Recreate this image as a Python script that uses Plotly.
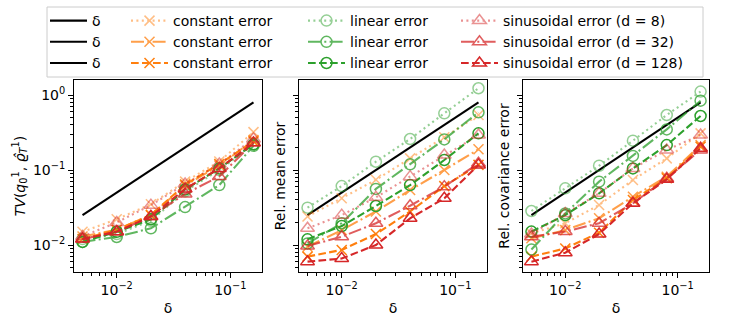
import plotly.graph_objects as go

# step sizes and reference line (delta scaled)
delta = [0.005, 0.01, 0.02, 0.04, 0.08, 0.16]
delta_ref = [0.025, 0.05, 0.1, 0.2, 0.4, 0.8]
d_values = [8, 32, 128]

# TV distance, rows = d 8 / 32 / 128
tv_constant = [[0.015, 0.022, 0.035, 0.070, 0.13, 0.32],
               [0.013, 0.016, 0.025, 0.062, 0.115, 0.25],
               [0.012, 0.016, 0.025, 0.064, 0.12, 0.24]]
tv_linear = [[0.012, 0.014, 0.021, 0.052, 0.10, 0.22],
             [0.011, 0.0128, 0.0167, 0.032, 0.063, 0.21],
             [0.011, 0.015, 0.022, 0.055, 0.105, 0.22]]
tv_sinusoidal = [[0.013, 0.020, 0.034, 0.065, 0.12, 0.26],
                 [0.012, 0.015, 0.024, 0.048, 0.082, 0.23],
                 [0.012, 0.015, 0.024, 0.056, 0.105, 0.23]]

# relative mean error
mean_constant = [[0.024, 0.042, 0.074, 0.143, 0.273, 0.541],
                 [0.0095, 0.0158, 0.028, 0.054, 0.10, 0.189],
                 [0.007, 0.0086, 0.014, 0.028, 0.061, 0.117]]
mean_linear = [[0.0315, 0.061, 0.129, 0.259, 0.57, 1.23],
               [0.0105, 0.0195, 0.056, 0.119, 0.256, 0.587],
               [0.0119, 0.0179, 0.0331, 0.063, 0.136, 0.308]]
mean_sinusoidal = [[0.0167, 0.025, 0.0432, 0.0815, 0.158, 0.293],
                   [0.0097, 0.0129, 0.0195, 0.0334, 0.060, 0.123],
                   [0.006, 0.0066, 0.010, 0.0227, 0.0419, 0.117]]

# relative covariance error
cov_constant = [[0.0143, 0.0195, 0.0341, 0.0736, 0.143, 0.308],
                [0.0123, 0.0158, 0.0227, 0.0441, 0.0815, 0.215],
                [0.007, 0.009, 0.0146, 0.0398, 0.0774, 0.205]]
cov_linear = [[0.0284, 0.057, 0.114, 0.246, 0.541, 1.11],
              [0.0087, 0.0264, 0.0699, 0.154, 0.348, 0.84],
              [0.0151, 0.025, 0.0489, 0.105, 0.215, 0.525]]
cov_sinusoidal = [[0.014, 0.0264, 0.0489, 0.105, 0.185, 0.293],
                  [0.0129, 0.0151, 0.0195, 0.036, 0.0774, 0.185],
                  [0.006, 0.0079, 0.014, 0.036, 0.075, 0.195]]

panels = [(tv_constant, tv_linear, tv_sinusoidal),
          (mean_constant, mean_linear, mean_sinusoidal),
          (cov_constant, cov_linear, cov_sinusoidal)]
y_titles = ["<i>TV</i>(<i>q</i><sub>0</sub><sup>1</sup>, <i>ϱ̂</i><sub><i>T</i></sub><sup>1</sup>)",
            "Rel. mean error", "Rel. covariance error"]

FONT = "DejaVu Sans"
colors = {"constant": "#ff7f0e", "linear": "#2ca02c", "sinusoidal": "#d62728"}
symbols = {"constant": "x-thin", "linear": "circle-open", "sinusoidal": "triangle-up-open"}
msize = {"constant": 10, "linear": 11, "sinusoidal": 12}
dashes = ["2px,3.4px", "13px,3.3px,2px,3.3px", "7.7px,3.3px"]
alphas = [0.5, 0.75, 1.0]
legend_of = {"constant": "legend2", "linear": "legend3", "sinusoidal": "legend4"}

fig = go.Figure()

for p, series in enumerate(panels):
    xa = "x" if p == 0 else f"x{p+1}"
    ya = "y" if p == 0 else f"y{p+1}"
    fig.add_trace(go.Scatter(x=delta, y=delta_ref, mode="lines", name="δ",
                             line=dict(color="black", width=2.1),
                             xaxis=xa, yaxis=ya, legend="legend",
                             legendgroup=f"delta{p}", showlegend=True))
    for kind, data in zip(["constant", "linear", "sinusoidal"], series):
        for i, d in enumerate(d_values):
            name = f"sinusoidal error (d = {d})" if kind == "sinusoidal" else f"{kind} error"
            fig.add_trace(go.Scatter(
                x=delta, y=data[i], mode="lines+markers", name=name,
                line=dict(color=colors[kind], width=2.1, dash=dashes[i]),
                marker=dict(symbol=symbols[kind], size=msize[kind], color=colors[kind],
                            line=dict(width=1.5, color=colors[kind])),
                opacity=alphas[i], xaxis=xa, yaxis=ya,
                legend=legend_of[kind], legendgroup=f"{kind}{d}",
                showlegend=(p == 0)))

x_minor = [m * 10 ** e for e in (-3, -2, -1) for m in range(2, 10)]
y_minor = [m * 10 ** e for e in (-3, -2, -1, 0) for m in range(2, 10)]

x_domains = [[74 / 747, 262 / 747], [299 / 747, 487 / 747], [523 / 747, 709 / 747]]
axis_common = dict(type="log", showline=True, mirror=True, linecolor="black", linewidth=1,
                   showgrid=False, zeroline=False, ticks="outside", ticklen=5, tickwidth=1.1,
                   tickcolor="black", automargin=False,
                   tickfont=dict(family=FONT, size=14, color="black"))

layout = {}
for p in range(3):
    sfx = "" if p == 0 else str(p + 1)
    layout[f"xaxis{sfx}"] = dict(axis_common, domain=x_domains[p], range=[-2.376, -0.721],
                                 anchor=f"y{sfx}",
                                 tickvals=[0.01, 0.1], ticktext=["10<sup>−2</sup>", "10<sup>−1</sup>"],
                                 minor=dict(tickvals=x_minor, ticklen=3, tickwidth=0.8, tickcolor="black", ticks="outside"),
                                 title=dict(text="δ", font=dict(family=FONT, size=14, color="black"), standoff=6))
    layout[f"yaxis{sfx}"] = dict(axis_common, domain=[0.15, 0.75], range=[-2.36, 0.2],
                                 anchor=f"x{sfx}",
                                 tickvals=[0.01, 0.1, 1],
                                 ticktext=["10<sup>−2</sup>", "10<sup>−1</sup>", "10<sup>0</sup>"],
                                 showticklabels=(p == 0),
                                 minor=dict(tickvals=y_minor, ticklen=3, tickwidth=0.8, tickcolor="black", ticks="outside"),
                                 title=dict(text=y_titles[p], font=dict(family=FONT, size=14, color="black"),
                                            standoff=4))

leg_common = dict(orientation="v", xanchor="left", yanchor="top", y=1 - 5 / 320,
                  bgcolor="rgba(0,0,0,0)", font=dict(family=FONT, size=14, color="black"),
                  tracegroupgap=1, traceorder="normal", itemwidth=37)
layout["legend"] = dict(leg_common, x=45 / 747)
layout["legend2"] = dict(leg_common, x=126 / 747)
layout["legend3"] = dict(leg_common, x=303 / 747)
layout["legend4"] = dict(leg_common, x=456 / 747)

fig.update_layout(**layout)
fig.update_layout(
    width=747, height=320, margin=dict(l=0, r=0, t=0, b=0, autoexpand=False),
    paper_bgcolor="white", plot_bgcolor="white",
    font=dict(family=FONT, size=14, color="black"),
    shapes=[dict(type="rect", xref="paper", yref="paper", x0=47 / 747, x1=703 / 747,
                 y0=1 - 77 / 320, y1=1 - 7 / 320, line=dict(color="#cccccc", width=1),
                 fillcolor="rgba(255,255,255,0.8)", layer="below")],
)

# page has a default body margin, drop it so the figure sits at the window corner
fig.write_html("out.html", config={"displayModeBar": False},
               post_script="document.body.style.margin = '0';")
